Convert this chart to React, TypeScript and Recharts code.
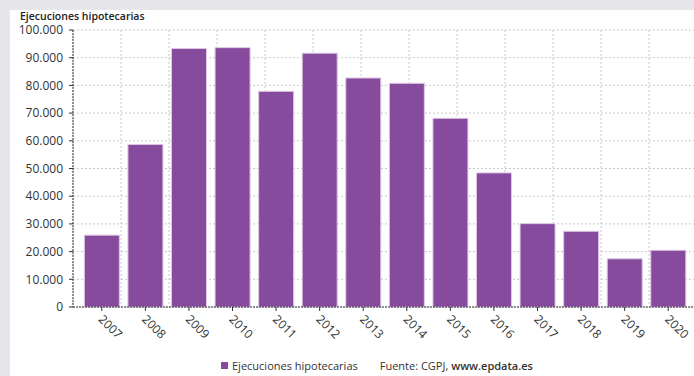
import React from 'react';
import { BarChart, Bar, XAxis, YAxis, CartesianGrid, Legend } from 'recharts';

const years = ['2007', '2008', '2009', '2010', '2011', '2012', '2013', '2014', '2015', '2016', '2017', '2018', '2019', '2020'];
const ejecuciones = [25943, 58686, 93319, 93636, 77854, 91622, 82680, 80749, 68135, 48410, 30094, 27334, 17412, 20480];
const yTicks = [0, 10000, 20000, 30000, 40000, 50000, 60000, 70000, 80000, 90000, 100000];
const gridTicks = [0, 1, 2, 3, 4, 5, 6, 7, 8, 9, 10, 11, 12, 13];

const data = years.map((year, i) => ({ year, ejecuciones: ejecuciones[i] }));

const FONT = '"Open Sans", "Noto Sans", sans-serif';
const PURPLE = '#874b9d';

const fmt = (v: number) => String(v).replace(/\B(?=(\d{3})+(?!\d))/g, '.');

function YearTick({ x, y, payload }: any) {
  return (
    <g transform={`translate(${x + 2},${y + 1})`}>
      <text transform='rotate(45)' textAnchor='start' dy='0.71em' fill='#333' fontSize={12} fontFamily={FONT}>
        {payload.value}
      </text>
    </g>
  );
}

function LegendContent({ payload }: any) {
  return (
    <div style={{ height: 24, paddingLeft: 211, paddingTop: 3, boxSizing: 'border-box', display: 'flex', alignItems: 'center', fontFamily: FONT, fontSize: 11, color: '#333' }}>
      {(payload || []).map((p: any) => (
        <span key={p.value} style={{ display: 'flex', alignItems: 'center' }}>
          <span style={{ width: 7, height: 7, background: p.color, marginRight: 4 }} />
          {p.value}
        </span>
      ))}
      <span style={{ marginLeft: 22 }}>
        Fuente: CGPJ, <b style={{ fontWeight: 600 }}>www.epdata.es</b>
      </span>
    </div>
  );
}

export default function App() {
  return (
    <div style={{ position: 'absolute', left: 0, top: 0, width: 694, height: 376, background: '#e6e6eb', overflow: 'hidden' }}>
      <div style={{ position: 'absolute', left: 10, top: 10, width: 684, height: 366, background: '#fff', overflow: 'hidden' }}>
        <div style={{ position: 'absolute', left: 10, top: 0, fontFamily: FONT, fontSize: 10.5, fontWeight: 600, color: '#222', lineHeight: '12px' }}>
          Ejecuciones hipotecarias
        </div>
        <BarChart width={694} height={366} data={data} margin={{ top: 20, right: 7, left: 0, bottom: 0 }} barCategoryGap='10%'>
          <XAxis xAxisId='grid' type='number' domain={[0, 13]} ticks={gridTicks} hide />
          <CartesianGrid xAxisId='grid' stroke='#c8c8c8' strokeDasharray='2 2' />
          <XAxis
            dataKey='year'
            height={45}
            padding={{ left: 7, right: 7 }}
            tick={<YearTick />}
            tickSize={4}
            tickMargin={2}
            interval={0}
            axisLine={{ stroke: '#333', strokeDasharray: '2 1' }}
            tickLine={{ stroke: '#333' }}
          />
          <YAxis
            width={63}
            domain={[0, 100000]}
            ticks={yTicks}
            tickFormatter={fmt}
            tickSize={4}
            tickMargin={6}
            tick={{ fill: '#333', fontSize: 12, fontFamily: FONT }}
            axisLine={{ stroke: '#333', strokeDasharray: '2 1' }}
            tickLine={{ stroke: '#333' }}
          />
          <Legend verticalAlign='bottom' content={<LegendContent />} />
          <Bar dataKey='ejecuciones' name='Ejecuciones hipotecarias' fill={PURPLE} stroke='#dcc8e4' strokeWidth={1} isAnimationActive={false} />
        </BarChart>
      </div>
    </div>
  );
}
